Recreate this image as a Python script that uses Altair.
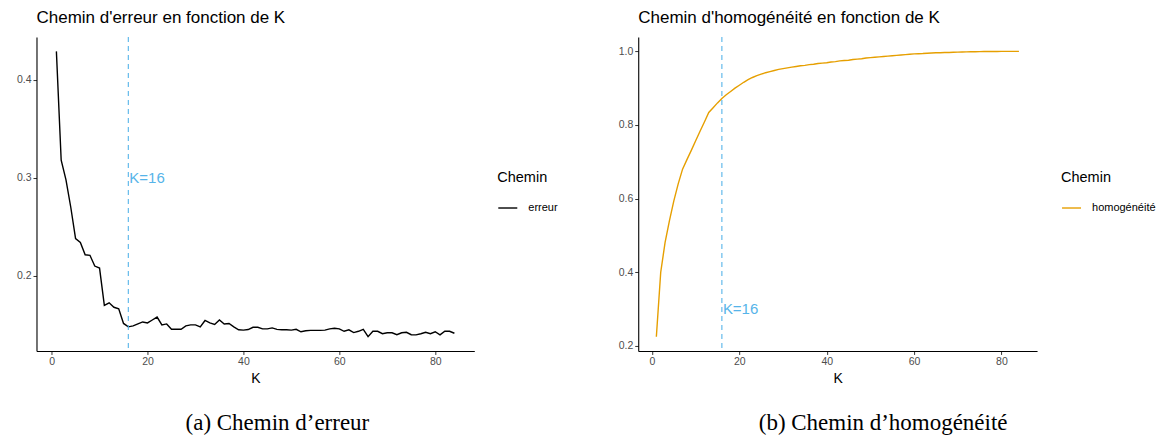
import altair as alt
import pandas as pd

# ---- data ----
K = list(range(1, 85))
erreur = [
    0.429, 0.318, 0.298, 0.270, 0.238, 0.234, 0.2215, 0.221, 0.210, 0.208,
    0.170, 0.1725, 0.168, 0.1665, 0.1515, 0.148, 0.149, 0.151, 0.153, 0.152,
    0.155, 0.158, 0.150, 0.151, 0.1455, 0.1455, 0.1455, 0.149, 0.150, 0.150,
    0.148, 0.1545, 0.152, 0.1505, 0.155, 0.151, 0.1515, 0.148, 0.145, 0.1447,
    0.1453, 0.1476, 0.1476, 0.146, 0.146, 0.147, 0.1455, 0.145, 0.145, 0.1447,
    0.1455, 0.143, 0.144, 0.1444, 0.1444, 0.1444, 0.1447, 0.146, 0.1466, 0.146,
    0.1435, 0.145, 0.1422, 0.1435, 0.1455, 0.138, 0.1435, 0.1435, 0.141, 0.142,
    0.142, 0.140, 0.142, 0.1425, 0.140, 0.1398, 0.141, 0.1425, 0.141, 0.143,
    0.1398, 0.1437, 0.1435, 0.1415,
]
homogeneite = [
    0.225, 0.400, 0.481, 0.540, 0.594, 0.640, 0.680, 0.706, 0.731, 0.757,
    0.783, 0.808, 0.834, 0.847, 0.860, 0.872, 0.882, 0.891, 0.900, 0.908,
    0.916, 0.923, 0.929, 0.934, 0.938, 0.942, 0.945, 0.948, 0.951, 0.953,
    0.955, 0.957, 0.959, 0.961, 0.962, 0.964, 0.965, 0.967, 0.968, 0.969,
    0.971, 0.972, 0.974, 0.975, 0.976, 0.978, 0.979, 0.980, 0.982, 0.983,
    0.984, 0.985, 0.986, 0.987, 0.988, 0.989, 0.990, 0.991, 0.992, 0.993,
    0.9935, 0.994, 0.995, 0.9955, 0.996, 0.9963, 0.9967, 0.997, 0.9975, 0.998,
    0.9983, 0.9985, 0.9988, 0.999, 0.9992, 0.9994, 0.9995, 0.9996, 0.9997, 0.9998,
    0.9999, 0.9999, 1.0, 1.0,
]
K_SEL = 16
ANNOT_Y = 0.3
x_ticks = [0, 20, 40, 60, 80]
y_ticks_left = [0.2, 0.3, 0.4]
y_ticks_right = [0.2, 0.4, 0.6, 0.8, 1.0]

FONT = "Liberation Sans"
SERIF = "Liberation Serif"
VLINE = "#56B4E9"


def expand(lo, hi, f=0.05):
    r = hi - lo
    return [lo - f * r, hi + f * r]


def panel(values, name, color, title, caption, yticks, width, height,
          legend_x, caption_x):
    df = pd.DataFrame({"K": K, "v": values, "Chemin": name})
    xenc = alt.X("K:Q", scale=alt.Scale(domain=expand(min(K), max(K)), nice=False, zero=False),
                 axis=alt.Axis(values=x_ticks, title="K", format="d"))
    yenc = alt.Y("v:Q", scale=alt.Scale(domain=expand(min(values), max(values)), nice=False, zero=False),
                 axis=alt.Axis(values=yticks, format=".1f", title=None))
    line = alt.Chart(df).mark_line(strokeWidth=1.4).encode(
        x=xenc, y=yenc,
        color=alt.Color("Chemin:N", scale=alt.Scale(domain=[name], range=[color]),
                        legend=alt.Legend(orient="none", legendX=legend_x, legendY=134)),
    )
    rule = alt.Chart(pd.DataFrame({"K": [K_SEL]})).mark_rule(
        color=VLINE, strokeDash=[5, 4], strokeWidth=1.1).encode(x=xenc)
    txt = alt.Chart(pd.DataFrame({"K": [K_SEL], "v": [ANNOT_Y], "lab": [f"K={K_SEL}"]})).mark_text(
        align="left", baseline="middle", dx=1, fontSize=15, font=FONT, color=VLINE
    ).encode(x=xenc, y=yenc, text="lab:N")
    cap = alt.Chart(pd.DataFrame({"cap": [caption]})).mark_text(
        align="center", baseline="middle", fontSize=23, font=SERIF, color="black"
    ).encode(x=alt.value(caption_x), y=alt.value(386), text="cap:N")
    return alt.layer(line, rule, txt, cap).properties(
        width=width, height=height,
        title=alt.TitleParams(text=title, anchor="start", frame="group", font=FONT,
                              fontSize=17, fontWeight="normal", color="black", offset=10),
    )


left = panel(erreur, "erreur", "black", "Chemin d'erreur en fonction de K",
             "(a)  Chemin d’erreur", y_ticks_left, 438, 314, 461, 241)
right = panel(homogeneite, "homogénéité", "#E69F00", "Chemin d'homogénéité en fonction de K",
              "(b)  Chemin d’homogénéité", y_ticks_right, 399, 314, 423, 245)

chart = alt.hconcat(left, right, spacing=164, bounds="flush").resolve_scale(
    color="independent", x="independent", y="independent"
).properties(
    padding={"left": 7.5, "top": 0, "right": 0, "bottom": 0}
).configure_view(stroke=None).configure_axis(
    domainColor="black", domainWidth=1.1, tickColor="#333333", tickSize=3.5, tickWidth=1,
    labelColor="#4D4D4D", labelFontSize=10.5, labelFont=FONT, labelPadding=2,
    titleFont=FONT, titleFontSize=14, titleFontWeight="normal", titleColor="black",
    titlePadding=5, grid=False,
).configure_legend(
    titleFont=FONT, titleFontSize=14.5, titleFontWeight="normal", titleColor="black",
    labelFont=FONT, labelFontSize=11, labelColor="black", symbolSize=361,
    symbolStrokeWidth=1.4, labelOffset=10, titlePadding=12,
)

chart.save("out.html", embed_options={"renderer": "svg", "actions": False})
